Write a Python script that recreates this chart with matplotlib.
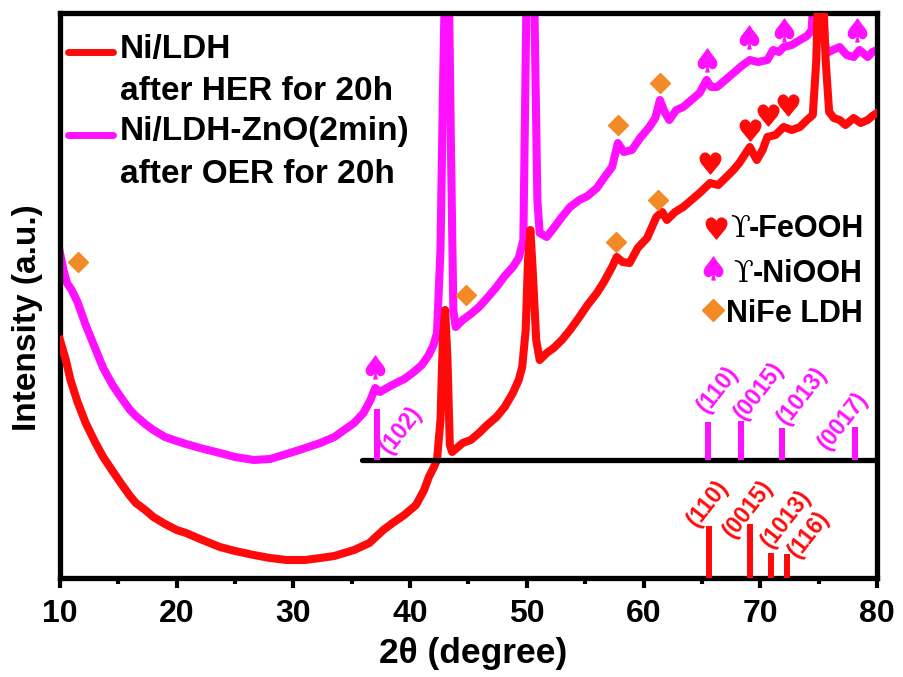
import matplotlib
matplotlib.use("Agg")
import matplotlib.pyplot as plt
from matplotlib import font_manager
import numpy as np

# ---- data -------------------------------------------------------------
# Ni/LDH after HER for 20h (2theta, intensity a.u.)
her_x = [10.0, 10.5, 10.9, 11.5, 12.2, 13.0, 13.7, 14.5, 15.2, 16.0, 16.5, 17.3,
         18.0, 19.0, 20.0, 20.8, 22.0, 23.7, 25.0, 26.6, 28.0, 29.4, 31.0, 32.3,
         33.5, 35.2, 36.5, 37.7, 38.5, 39.5, 40.5, 41.2, 41.6, 42.0, 42.3, 42.6,
         42.8, 43.0, 43.2, 43.4, 43.6, 44.0, 44.5, 45.2, 45.9, 46.6, 47.4, 48.1,
         48.8, 49.3, 49.6, 49.9, 50.1, 50.3, 50.5, 50.8, 51.1, 51.7, 52.3, 53.0,
         53.7, 54.5, 55.2, 56.0, 56.6, 57.3, 57.7, 58.2, 58.8, 59.5, 60.3, 61.1,
         61.6, 62.0, 62.7, 63.4, 64.1, 64.8, 65.7, 66.4, 67.1, 67.7, 68.2, 69.1,
         69.7, 70.2, 70.6, 71.3, 72.0, 72.7, 73.4, 74.0, 74.5, 74.8, 75.0, 75.3,
         75.6, 75.9, 76.3, 76.8, 77.3, 78.0, 78.6, 79.2, 79.6, 80.0]
her_y = [238, 218, 198, 176, 155, 136, 121, 107, 95, 82, 75, 68,
         61, 54, 48, 45, 39, 31, 27, 23, 20, 18, 18, 20,
         22, 28, 35, 48, 55, 63, 73, 88, 101, 110, 118, 158,
         238, 268, 218, 133, 126, 130, 135, 138, 145, 153, 161, 171,
         185, 198, 211, 248, 318, 348, 308, 238, 218, 225, 230, 238,
         248, 261, 273, 285, 296, 311, 321, 316, 315, 330, 340, 361,
         366, 358, 366, 371, 378, 385, 395, 393, 401, 408, 415, 431,
         418, 428, 441, 443, 451, 448, 451, 458, 463, 518, 608, 608,
         518, 466, 460, 458, 453, 460, 455, 458, 462, 465]

# Ni/LDH-ZnO(2min) after OER for 20h
oer_x = [10.0, 10.3, 10.6, 11.0, 11.5, 12.2, 13.0, 13.7, 14.5, 15.2, 16.0, 16.5,
         17.3, 18.0, 19.0, 20.0, 20.8, 22.0, 23.7, 25.0, 26.6, 28.0, 29.4, 30.5,
         32.3, 33.5, 35.2, 36.0, 36.6, 37.0, 37.4, 38.0, 38.8, 39.5, 40.2, 41.0,
         41.6, 42.0, 42.3, 42.6, 42.8, 43.0, 43.3, 43.5, 43.7, 43.9, 44.5, 45.2,
         45.9, 46.6, 47.4, 48.1, 48.8, 49.3, 49.7, 50.0, 50.6, 50.9, 51.1, 51.7,
         52.3, 53.0, 53.7, 54.5, 55.2, 56.0, 56.6, 57.3, 57.8, 58.3, 59.0, 59.7,
         60.5, 61.0, 61.4, 61.8, 62.2, 62.8, 63.4, 64.1, 64.8, 65.4, 65.8, 66.3,
         67.0, 67.7, 68.4, 69.1, 69.8, 70.6, 71.1, 71.6, 72.0, 72.7, 73.4, 74.0,
         74.4, 74.7, 75.3, 75.5, 75.7, 76.2, 76.8, 77.4, 78.0, 78.5, 79.2, 79.6,
         80.0]
oer_y = [325, 308, 295, 288, 276, 253, 230, 210, 193, 181, 168, 162,
         154, 148, 141, 137, 134, 130, 125, 121, 118, 119, 124, 128,
         135, 141, 155, 165, 178, 190, 186, 190, 195, 199, 205, 213,
         223, 233, 245, 328, 478, 608, 608, 428, 268, 251, 258, 264,
         271, 280, 291, 302, 311, 320, 338, 608, 608, 378, 345, 341,
         350, 361, 371, 378, 382, 390, 400, 411, 435, 426, 428, 440,
         451, 460, 478, 466, 458, 468, 471, 478, 485, 498, 491, 491,
         498, 505, 512, 518, 516, 518, 528, 526, 531, 533, 538, 542,
         548, 608, 608, 538, 525, 528, 531, 523, 521, 528, 521, 526,
         528]

# Standard reference lines
niooh_pos = [37.2, 65.5, 68.35, 71.85, 78.15]
niooh_h = [51, 38, 39, 32, 33]
niooh_hkl = ["(102)", "(110)", "(0015)", "(1013)", "(0017)"]

ldh_pos = [65.6, 69.1, 70.9, 72.3]
ldh_h = [52.5, 54, 25, 24]
ldh_hkl = ["(110)", "(0015)", "(1013)", "(116)"]

# Phase markers (2theta, intensity)
ldh_mark_x = [11.5, 44.8, 57.8, 61.4, 57.6, 61.2]
ldh_mark_y = [316, 283, 453, 495, 336, 378]
niooh_mark_x = [37.0, 65.4, 69.0, 72.0, 78.3]
niooh_mark_y = [211, 518, 541, 548, 548]
feooh_mark_x = [65.7, 69.1, 70.7, 72.4]
feooh_mark_y = [415, 448, 463, 473]

# ---- style --------------------------------------------------------------
RED = "#FF0A0A"
MAG = "#FF10FF"
ORANGE = "#F28A26"
SANS = ["Liberation Sans", "DejaVu Sans"]
plt.rcParams["font.family"] = SANS
plt.rcParams["font.weight"] = "bold"

installed = {f.name for f in font_manager.fontManager.ttflist}
if "Liberation Sans Narrow" in installed:
    TICK_FONT, TICK_SIZE = ["Liberation Sans Narrow", "Liberation Sans"], 26
else:
    TICK_FONT, TICK_SIZE = SANS, 23

fig = plt.figure(figsize=(9.04, 6.77), dpi=100)
ax = fig.add_axes([60 / 904, 1 - 578 / 677, 817 / 904, 565 / 677])
ax.set_xlim(10, 80)
ax.set_ylim(0, 565)

base_niooh = 118

# curves
ax.plot(oer_x, oer_y, color=MAG, lw=5.8, solid_joinstyle="round", zorder=2)
ax.plot(her_x, her_y, color=RED, lw=5.8, solid_joinstyle="round", zorder=3)

# reference baseline and stick patterns
ax.plot([35.9, 80], [base_niooh, base_niooh], color="black", lw=3.8,
        solid_capstyle="round", zorder=4)
ax.vlines(niooh_pos, base_niooh, [base_niooh + h for h in niooh_h],
          color=MAG, lw=4.3, zorder=4)
ax.vlines(ldh_pos, 0, ldh_h, color=RED, lw=4.3, zorder=4)

# hkl labels: offsets (dx in degree, dy in a.u.) from top of each stick
niooh_off = [(0.6, -42), (-0.5, 12), (-0.2, 4), (0.0, 6), (-2.8, -20)]
for x, h, lab, (dx, dy) in zip(niooh_pos, niooh_h, niooh_hkl, niooh_off):
    ax.text(x + dx, base_niooh + h + dy, lab, color=MAG, fontsize=16.5,
            fontweight="bold", rotation=52, rotation_mode="anchor",
            ha="left", va="center", zorder=5)
ldh_off = [(-1.5, 2), (-1.9, -11), (-0.4, 8), (0.5, -1)]
for x, h, lab, (dx, dy) in zip(ldh_pos, ldh_h, ldh_hkl, ldh_off):
    ax.text(x + dx, h + dy, lab, color=RED, fontsize=16.5,
            fontweight="bold", rotation=52, rotation_mode="anchor",
            ha="left", va="center", zorder=5)

# phase markers
ax.plot(ldh_mark_x, ldh_mark_y, ls="none", marker="D", ms=10.5,
        color=ORANGE, mec=ORANGE, zorder=6)
ax.plot(niooh_mark_x, niooh_mark_y, ls="none", marker="$\u2660$", ms=16.5,
        color=MAG, mec=MAG, zorder=6)
ax.plot(feooh_mark_x, feooh_mark_y, ls="none", marker="$\u2665$", ms=15,
        color=RED, mec=RED, zorder=6)

# sample legend
ax.plot([10.69, 14.54], [526, 526], color=RED, lw=5, solid_capstyle="round")
ax.plot([10.69, 14.54], [443, 443], color=MAG, lw=5, solid_capstyle="round")
leg_lines = [("Ni/LDH", 520), ("after HER for 20h", 478),
             ("Ni/LDH-ZnO(2min)", 438), ("after OER for 20h", 395)]
for txt, yy in leg_lines:
    ax.text(15.14, yy, txt, fontsize=24, fontweight="bold", va="baseline",
            ha="left", color="black")

# phase legend
ax.plot([66.2], [350], ls="none", marker="$\u2665$", ms=15, color=RED, mec=RED)
ax.plot([65.95], [310], ls="none", marker="$\u2660$", ms=16.5, color=MAG, mec=MAG)
ax.plot([65.95], [268], ls="none", marker="D", ms=11, color=ORANGE, mec=ORANGE)
ax.text(67.4, 341, "\u03d2", fontsize=21, family=["DejaVu Serif"],
        fontweight="normal", va="baseline", ha="left")
ax.text(69.05, 341, "-FeOOH", fontsize=22, fontweight="bold", va="baseline", ha="left")
ax.text(67.65, 296, "\u03d2", fontsize=21, family=["DejaVu Serif"],
        fontweight="normal", va="baseline", ha="left")
ax.text(69.35, 296, "-NiOOH", fontsize=22, fontweight="bold", va="baseline", ha="left")
ax.text(67.1, 256, "NiFe LDH", fontsize=22, fontweight="bold", va="baseline", ha="left")

# axes
for side in ["left", "right", "top", "bottom"]:
    ax.spines[side].set_linewidth(3.8)
ax.set_xticks(np.arange(10, 81, 10))
ax.set_xticks(np.arange(15, 80, 10), minor=True)
ax.set_yticks([])
ax.tick_params(axis="x", which="major", direction="out", length=7, width=3,
               labelsize=TICK_SIZE, pad=8, top=False)
ax.tick_params(axis="x", which="minor", direction="out", length=4.5, width=3,
               top=False)
for lab in ax.get_xticklabels():
    lab.set_fontweight("bold")
    lab.set_family(TICK_FONT)

ax.set_xlabel("2\u03b8 (degree)", fontsize=25.5, fontweight="bold")
ax.xaxis.set_label_coords(0.506, -0.105)
ax.set_ylabel("Intensity (a.u.)", fontsize=24, fontweight="bold")
ax.yaxis.set_label_coords(-0.021, 0.46)

fig.savefig("out.png", dpi=100)
